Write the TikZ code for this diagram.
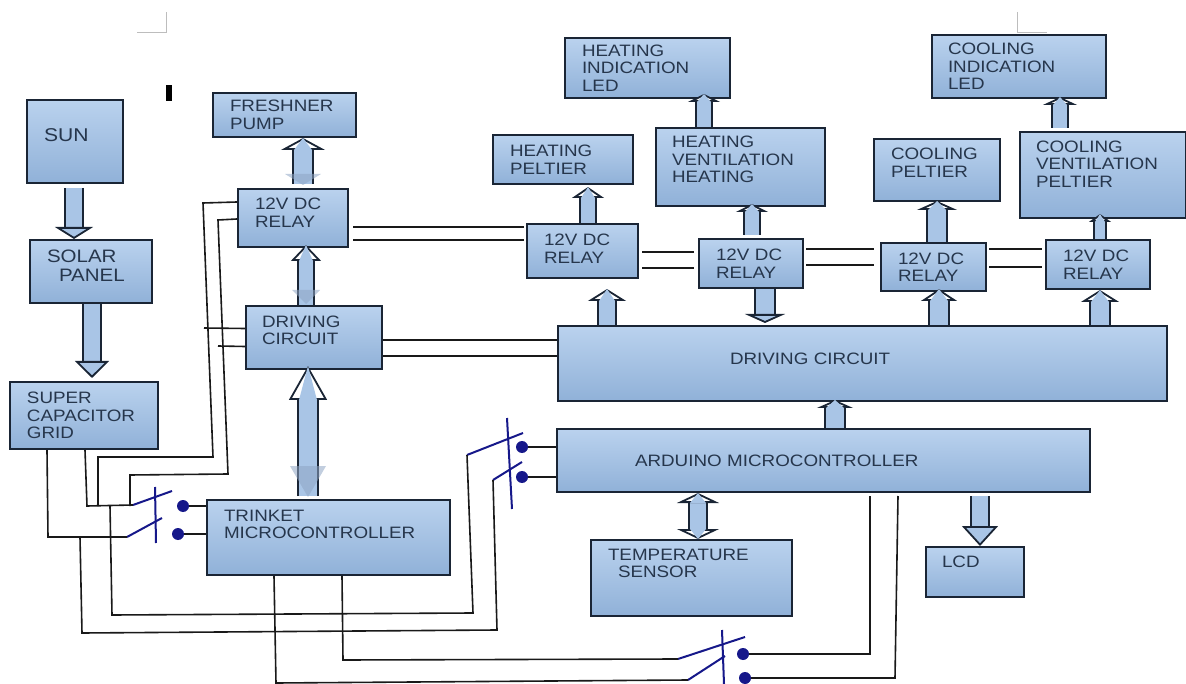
\documentclass[tikz,border=0pt]{standalone}
\usepackage{fontspec}
\setmainfont[FakeStretch=1.14]{Liberation Sans}
\usetikzlibrary{arrows.meta,positioning}
\definecolor{edgeblue}{HTML}{1A2535}
\definecolor{topblue}{HTML}{BAD2EE}
\definecolor{lowblue}{HTML}{90B1D8}
\definecolor{arrowblue}{HTML}{A9C5E6}
\definecolor{fadeblue}{HTML}{8FA6C4}
\definecolor{textblue}{HTML}{26364C}
\definecolor{navyswitch}{HTML}{16188A}
\definecolor{marker}{HTML}{BDBDBD}

\begin{document}
\begin{tikzpicture}[
        x=1pt, y=-1pt,
        block/.style n args={3}{rectangle, draw=edgeblue, line width=2pt, top color=topblue, bottom color=lowblue,
                      minimum width=#1pt, minimum height=#2pt, text width=#3pt, inner sep=0pt, align=left,
                      text=textblue, font=\fontsize{16.5}{17.5}\selectfont},
        line/.style n args={3}{draw=edgeblue, line width=1.8pt, double=arrowblue, double distance=#1pt,
                      -{Triangle[width=#2pt, length=#3pt, fill=arrowblue, line width=1.8pt]}},
        hollow/.style n args={3}{draw=edgeblue, line width=1.8pt, double=arrowblue, double distance=#1pt,
                      -{Triangle[width=#2pt, length=#3pt, fill=white, line width=1.8pt, sep=-#3pt]
                        Triangle[width=#1pt, length=#3pt, color=arrowblue, fill=arrowblue, line width=0pt]}},
        twoway/.style n args={3}{draw=edgeblue, line width=1.8pt, double=arrowblue, double distance=#1pt,
                      {Triangle[width=#1pt, length=#3pt, color=arrowblue, fill=arrowblue, line width=0pt]
                        Triangle[width=#2pt, length=#3pt, fill=white, line width=1.8pt, sep=-#3pt]}-{Triangle[width=#2pt, length=#3pt, fill=white, line width=1.8pt, sep=-#3pt]
                        Triangle[width=#1pt, length=#3pt, color=arrowblue, fill=arrowblue, line width=0pt]}},
        fadetip/.style={fill=fadeblue, opacity=0.55},
        wire/.style={draw=black!90, line width=1.6pt},
        blade/.style={draw=navyswitch, line width=2pt},
        contact/.style={circle, fill=navyswitch, minimum size=12pt, inner sep=0pt},
        sheetmark/.style={draw=marker, line width=1pt}
    ]
    \useasboundingbox (0,0) rectangle (1186,684);

    % Page marks
    \draw [sheetmark] (137,33) -- (166,33) -- (166,12);
    \draw [sheetmark] (1017,12) -- (1017,33) -- (1047,33);
    \fill [black] (166,85) rectangle (172,101);

    % Left column
    \node [block={96}{83}{62}, text depth=12pt, font=\fontsize{18.5}{19}\selectfont] (sun) at (75,141.5) {SUN};
    \node [block={122}{63}{88}, text depth=30pt, font=\fontsize{18}{19}\selectfont] (solar) at (91,271.5) {SOLAR\\\hspace*{12pt}PANEL};
    \node [block={148}{67}{114}] (grid) at (84,415.5) {SUPER\\CAPACITOR\\GRID};

    % Trinket side
    \node [block={143}{44}{109}] (pump) at (284.5,115) {FRESHNER\\PUMP};
    \node [block={110}{58}{76}, text depth=28.5pt] (relayA) at (293,218) {12V DC\\RELAY};
    \node [block={136}{63}{104}, text depth=32.5pt] (driveA) at (314,337.5) {DRIVING\\CIRCUIT};
    \node [block={243}{75}{209}, text depth=43.5pt] (trinket) at (328.5,537.5) {TRINKET\\MICROCONTROLLER};

    % Heating side
    \node [block={140}{49}{106}] (heatpelt) at (563,159.5) {HEATING\\PELTIER};
    \node [block={165}{60}{131}] (heatled) at (647.5,68) {HEATING\\INDICATION\\LED};
    \node [block={169}{78}{137}, text depth=50pt] (heatvent) at (740.5,167) {HEATING\\VENTILATION\\HEATING};
    \node [block={111}{54}{77}, text depth=22.5pt] (relayB) at (582.5,251) {12V DC\\RELAY};
    \node [block={104}{49}{70}] (relayC) at (751,263.5) {12V DC\\RELAY};

    % Cooling side
    \node [block={174}{63}{142}] (coolled) at (1019,66.5) {COOLING\\INDICATION\\LED};
    \node [block={126}{62}{92}, text depth=32.5pt] (coolpelt) at (937,170) {COOLING\\PELTIER};
    \node [block={166}{86}{134}, text depth=57pt] (coolvent) at (1103,175) {COOLING\\VENTILATION\\PELTIER};
    \node [block={105}{48}{71}] (relayD) at (933.5,267) {12V DC\\RELAY};
    \node [block={104}{49}{70}] (relayE) at (1098,264.5) {12V DC\\RELAY};

    % Arduino side
    \node [block={609}{75}{265}, text depth=9pt] (driveB) at (862.5,363.5) {DRIVING CIRCUIT};
    \node [block={533}{63}{377}] (arduino) at (823.5,460.5) {ARDUINO MICROCONTROLLER};
    \node [block={201}{76}{167}, text depth=46.5pt] (sensor) at (691.5,578) {TEMPERATURE\\\hspace*{10pt}SENSOR};
    \node [block={98}{50}{66}, text depth=20pt] (lcd) at (975,572) {LCD};

    % Block arrows
    \draw [line={16}{38}{12}] ([xshift=-1pt,yshift=-4pt]sun.south) -- ([xshift=-17pt]solar.north);
    \draw [line={16}{34}{17}] ([xshift=1pt]solar.south) -- ([xshift=8pt,yshift=3pt]grid.north);
    \draw [hollow={18}{44}{12}] ([xshift=10pt,yshift=4pt]relayA.north) -- ([xshift=18.5pt]pump.south);
    \draw [hollow={14}{30}{16}] ([xshift=-8pt]driveA.north) -- ([xshift=13pt,yshift=3pt]relayA.south);
    \draw [hollow={18}{38}{34}] ([xshift=-20.5pt,yshift=3pt]trinket.north) -- ([xshift=-6pt,yshift=4pt]driveA.south);
    \draw [hollow={14}{32}{11}] ([xshift=5.5pt]relayB.north) -- ([xshift=25pt,yshift=-2pt]heatpelt.south);
    \draw [hollow={16}{38}{12}] ([xshift=-255.5pt]driveB.north) -- ([xshift=24.5pt,yshift=-10pt]relayB.south);
    \draw [hollow={14}{32}{8}] ([xshift=-36.5pt]heatvent.north) -- ([xshift=56.5pt,yshift=5pt]heatled.south);
    \draw [hollow={14}{32}{8}] ([xshift=1pt,yshift=3pt]relayC.north) -- ([xshift=11.5pt,yshift=3pt]heatvent.south);
    \draw [line={18}{40}{9}] ([xshift=14pt]relayC.south) -- ([xshift=-97.5pt,yshift=2pt]driveB.north);
    \draw [hollow={18}{40}{9}] ([xshift=3.5pt]relayD.north) -- ([yshift=1pt]coolpelt.south);
    \draw [hollow={18}{36}{12}] ([xshift=76.5pt]driveB.north) -- ([xshift=5.5pt,yshift=3pt]relayD.south);
    \draw [hollow={14}{34}{8}] ([xshift=-43pt,yshift=3pt]coolvent.north) -- ([xshift=41pt,yshift=2pt]coolled.south);
    \draw [hollow={10}{22}{8}] ([xshift=2pt]relayE.north) -- ([xshift=-3pt,yshift=5pt]coolvent.south);
    \draw [hollow={18}{38}{12}] ([xshift=237.5pt]driveB.north) -- ([xshift=2pt]relayE.south);
    \draw [hollow={18}{36}{8}] ([xshift=11.5pt]arduino.north) -- ([xshift=-27.5pt,yshift=2pt]driveB.south);
    \draw [twoway={16}{42}{10}] ([xshift=-125.5pt]arduino.south) -- ([xshift=6.5pt]sensor.north);
    \draw [line={16}{36}{20}] ([xshift=156.5pt,yshift=-3pt]arduino.south) -- ([xshift=5pt]lcd.north);

    % Faint tips at the arrow feet
    \fill [fadetip] (290,466) -- (326,466) -- (308,497) -- cycle;
    \fill [fadetip] (285,174) -- (321,174) -- (303,185) -- cycle;
    \fill [fadetip] (292,290) -- (320,290) -- (306,304) -- cycle;

    % Relay chain
    \draw [wire] ([xshift=4pt,yshift=-9pt]relayA.east) -- ([xshift=-2pt,yshift=24pt]relayB.west);
    \draw [wire] ([xshift=4pt,yshift=-22pt]relayA.east) -- ([xshift=-2pt,yshift=11pt]relayB.west);
    \draw [wire] ([xshift=3pt,yshift=-1pt]relayB.east) -- ([xshift=-4pt,yshift=11.5pt]relayC.west);
    \draw [wire] ([xshift=3pt,yshift=-17pt]relayB.east) -- ([xshift=-4pt,yshift=-4.5pt]relayC.west);
    \draw [wire] ([xshift=2pt,yshift=14.5pt]relayC.east) -- ([xshift=-6pt,yshift=18pt]relayD.west);
    \draw [wire] ([xshift=2pt,yshift=-1.5pt]relayC.east) -- ([xshift=-6pt,yshift=2pt]relayD.west);
    \draw [wire] ([xshift=2pt,yshift=18pt]relayD.east) -- ([xshift=-3pt,yshift=15.5pt]relayE.west);
    \draw [wire] ([xshift=2pt]relayD.east) -- ([xshift=-3pt,yshift=-2.5pt]relayE.west);
    \draw [wire] ([yshift=-2.5pt]driveA.east) -- ([yshift=23.5pt]driveB.west);
    \draw [wire] ([yshift=-18.5pt]driveA.east) -- ([yshift=7.5pt]driveB.west);

    % Contacts
    \node [contact] (dotA) at (183,506) {};
    \node [contact] (dotB) at (178,534) {};
    \node [contact] (dotC) at (522,447) {};
    \node [contact] (dotD) at (522,477) {};
    \node [contact] (dotE) at (743,654) {};
    \node [contact] (dotF) at (745,678) {};

    \draw [wire] (dotA) -- (trinket.west |- dotA);
    \draw [wire] (dotB) -- (trinket.west |- dotB);
    \draw [wire] (dotC) -- (arduino.west |- dotC);
    \draw [wire] (dotD) -- (arduino.west |- dotD);
    \draw [wire] (dotE) -- (870,654) -- ([xshift=46.5pt,yshift=-3pt]arduino.south);
    \draw [wire] (dotF) -- (895,678) -- ([xshift=74.5pt,yshift=-3pt]arduino.south);

    % Switch free ends
    \coordinate (swA) at (133,505);
    \coordinate (swB) at (127,537);
    \coordinate (swC) at (467,455);
    \coordinate (swD) at (493,480);
    \coordinate (swE) at (678,659);
    \coordinate (swF) at (688,680);

    \draw [blade] (swA) -- (172,491);
    \draw [blade] (swB) -- (162,518);
    \draw [blade] (155,487) -- (156,543);
    \draw [blade] (swC) -- (523,433);
    \draw [blade] (swD) -- (522,462);
    \draw [blade] (507,418) -- (512,509);
    \draw [blade] (swE) -- (745,637);
    \draw [blade] (swF) -- (725,656);
    \draw [blade] (722,630) -- (724,684);

    % Supply wiring
    \draw [wire] ([xshift=1pt]grid.south) -- (87,506) -- (swA);
    \draw [wire] ([xshift=-37pt]grid.south) -- (48,537) -- (swB);
    \draw [wire] ([yshift=16pt]relayA.west) -- (203,203) -- (213,457) -- (98,457) -- (98,506);
    \draw [wire] ([yshift=-1pt]relayA.west) -- (218,220) -- (228,474) -- (130,475) -- (130,506);
    \draw [wire] ([yshift=9pt]driveA.west) -- (204,328);
    \draw [wire] ([yshift=-9pt]driveA.west) -- (218,346);
    \draw [wire] (110,506) -- (112,615) -- (473,613) -- (swC);
    \draw [wire] (80,537) -- (82,633) -- (497,630) -- (swD);
    \draw [wire] ([xshift=13.5pt]trinket.south) -- (343,660) -- (swE);
    \draw [wire] ([xshift=-54.5pt]trinket.south) -- (276,683) -- (swF);
    \end{tikzpicture}
\end{document}
